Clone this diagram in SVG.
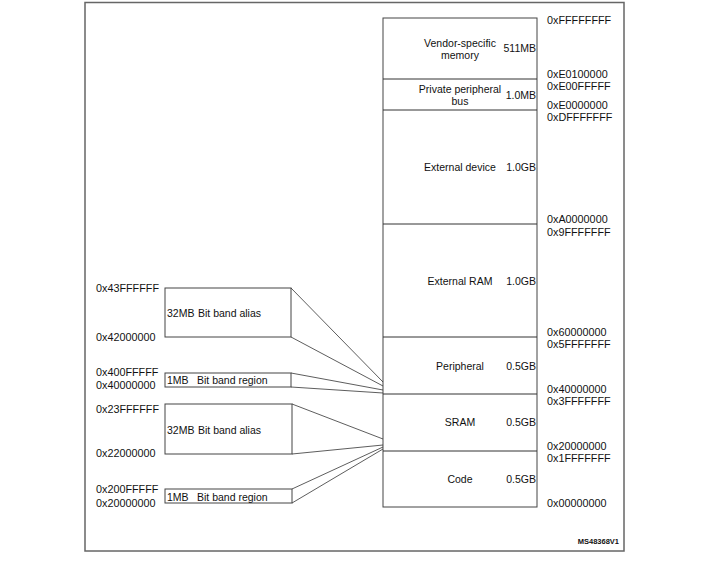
<svg xmlns="http://www.w3.org/2000/svg" width="711" height="573" viewBox="0 0 711 573">
<style>
text{font-family:"Liberation Sans",Arial,sans-serif;fill:#111}
.a{font-size:10.8px}
.m{font-size:10.5px;text-anchor:middle}
.s{font-size:10.5px;text-anchor:end}
.b{font-size:10.5px}
.box{fill:#fff;stroke:#444;stroke-width:1}
.ln{stroke:#333;stroke-width:1;fill:none}
</style>
<rect x="85" y="2.5" width="539" height="548.5" fill="#fff" stroke="#666" stroke-width="1.5"/>
<g id="memory">
<rect x="383" y="18" width="154" height="489" class="box"/>
<g id="vendor"><text class="m" x="460" y="47">Vendor-specific</text><text class="m" x="460" y="59">memory</text><text class="s" x="536" y="52">511MB</text></g>
<line x1="383" y1="79" x2="537" y2="79" class="ln"/>
<g id="ppb"><text class="m" x="460" y="93">Private peripheral</text><text class="m" x="460" y="105">bus</text><text class="s" x="536" y="99">1.0MB</text></g>
<line x1="383" y1="110" x2="537" y2="110" class="ln"/>
<g id="extdev"><text class="m" x="460" y="171">External device</text><text class="s" x="536" y="171">1.0GB</text></g>
<line x1="383" y1="224" x2="537" y2="224" class="ln"/>
<g id="extram"><text class="m" x="460" y="285">External RAM</text><text class="s" x="536" y="285">1.0GB</text></g>
<line x1="383" y1="337" x2="537" y2="337" class="ln"/>
<g id="periph"><text class="m" x="460" y="370">Peripheral</text><text class="s" x="536" y="370">0.5GB</text></g>
<line x1="383" y1="394" x2="537" y2="394" class="ln"/>
<g id="sram"><text class="m" x="460" y="426">SRAM</text><text class="s" x="536" y="426">0.5GB</text></g>
<line x1="383" y1="451" x2="537" y2="451" class="ln"/>
<g id="code"><text class="m" x="460" y="483">Code</text><text class="s" x="536" y="483">0.5GB</text></g>
</g>
<g id="addr-right">
<text class="a" x="547" y="24">0xFFFFFFFF</text>
<text class="a" x="547" y="78">0xE0100000</text>
<text class="a" x="547" y="90">0xE00FFFFF</text>
<text class="a" x="547" y="109">0xE0000000</text>
<text class="a" x="547" y="121">0xDFFFFFFF</text>
<text class="a" x="547" y="223">0xA0000000</text>
<text class="a" x="547" y="236">0x9FFFFFFF</text>
<text class="a" x="547" y="336">0x60000000</text>
<text class="a" x="547" y="348">0x5FFFFFFF</text>
<text class="a" x="547" y="393">0x40000000</text>
<text class="a" x="547" y="405">0x3FFFFFFF</text>
<text class="a" x="547" y="450">0x20000000</text>
<text class="a" x="547" y="462">0x1FFFFFFF</text>
<text class="a" x="547" y="507">0x00000000</text>
</g>
<g id="alias1"><rect x="165" y="288" width="126" height="49" class="box"/><text class="b" x="167" y="317">32MB</text><text class="b" x="198" y="317">Bit band alias</text></g>
<g id="region1"><rect x="165" y="373" width="126" height="14" class="box"/><text class="b" x="167" y="384">1MB</text><text class="b" x="197" y="384">Bit band region</text></g>
<g id="alias2"><rect x="165" y="404" width="127" height="50" class="box"/><text class="b" x="167" y="434">32MB</text><text class="b" x="198" y="434">Bit band alias</text></g>
<g id="region2"><rect x="165" y="489" width="127" height="14" class="box"/><text class="b" x="167" y="501">1MB</text><text class="b" x="197" y="501">Bit band region</text></g>
<g id="addr-left">
<text class="a" x="96" y="292">0x43FFFFFF</text>
<text class="a" x="96" y="341">0x42000000</text>
<text class="a" x="96" y="376">0x400FFFFF</text>
<text class="a" x="96" y="389">0x40000000</text>
<text class="a" x="96" y="413">0x23FFFFFF</text>
<text class="a" x="96" y="457">0x22000000</text>
<text class="a" x="96" y="493">0x200FFFFF</text>
<text class="a" x="96" y="507">0x20000000</text>
</g>
<g id="connectors" stroke="#333" stroke-width="0.8" fill="none">
<line x1="291" y1="288" x2="383" y2="382"/>
<line x1="291" y1="337" x2="383" y2="386"/>
<line x1="291" y1="373" x2="383" y2="390"/>
<line x1="291" y1="387" x2="383" y2="393"/>
<line x1="292" y1="404" x2="383" y2="439"/>
<line x1="292" y1="454" x2="383" y2="445"/>
<line x1="292" y1="489" x2="383" y2="447"/>
<line x1="292" y1="503" x2="383" y2="449"/>
</g>
<text x="619" y="544" font-size="7.5px" font-weight="bold" text-anchor="end">MS48368V1</text>
</svg>
